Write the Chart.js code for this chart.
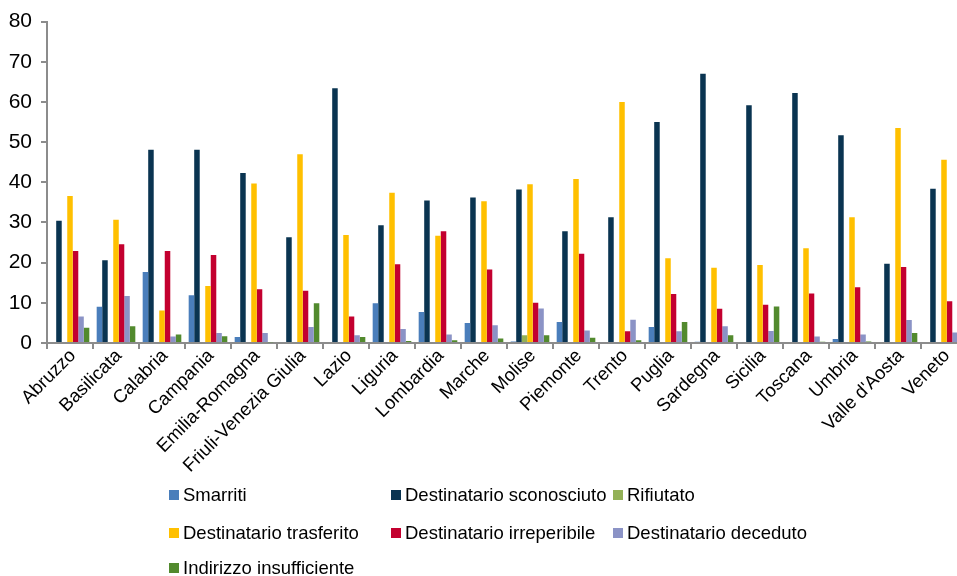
<!DOCTYPE html>
<html>
<head>
<meta charset="utf-8">
<script src="https://cdn.jsdelivr.net/npm/chart.js@4/dist/chart.umd.min.js"></script>
<style>
  html, body { margin: 0; padding: 0; background: #fff; overflow: hidden; width: 957px; height: 576px; }
  #wrap { position: relative; width: 957px; height: 576px; overflow: hidden; }
  canvas { position: absolute; left: 0; top: 0; }
  .lg { position: absolute; font-family: "Liberation Sans", Arial, sans-serif; font-size: 18.5px; color: #000; white-space: nowrap; line-height: 20px; height: 20px; }
  .lg span.box { display: inline-block; width: 10px; height: 10px; margin-right: 4px; vertical-align: 1px; }
</style>
</head>
<body>
<div id="wrap">
  <canvas id="c" width="968" height="576"></canvas>
</div>
<script>
const categories = ["Abruzzo","Basilicata","Calabria","Campania","Emilia-Romagna","Friuli-Venezia Giulia","Lazio","Liguria","Lombardia","Marche","Molise","Piemonte","Trento","Puglia","Sardegna","Sicilia","Toscana","Umbria","Valle d'Aosta","Veneto"];
const seriesNames = ["Smarriti","Destinatario sconosciuto","Rifiutato","Destinatario trasferito","Destinatario irreperibile","Destinatario deceduto","Indirizzo insufficiente"];
const smarriti      = [0, 9.0, 17.7, 11.9, 1.5, 0, 0, 9.9, 7.7, 5.0, 0.4, 5.2, 0, 4.0, 0.3, 0, 0, 1.0, 0, 0];
const sconosciuto   = [30.4, 20.6, 48.1, 48.1, 42.3, 26.3, 63.4, 29.3, 35.5, 36.2, 38.2, 27.8, 31.3, 55.0, 67.0, 59.2, 62.2, 51.7, 19.7, 38.4];
const rifiutato     = [0, 0, 0, 0, 0, 0, 0, 0, 0, 0, 1.9, 0, 0, 0, 0, 0, 0, 0, 0, 0];
const trasferito    = [36.6, 30.7, 8.1, 14.2, 39.7, 47.0, 26.9, 37.4, 26.7, 35.3, 39.5, 40.8, 60.0, 21.1, 18.7, 19.4, 23.6, 31.3, 53.5, 45.6];
const irreperibile  = [22.9, 24.6, 22.9, 21.9, 13.4, 13.0, 6.6, 19.6, 27.8, 18.3, 10.0, 22.2, 2.9, 12.2, 8.5, 9.5, 12.3, 13.9, 18.9, 10.4];
const deceduto      = [6.6, 11.7, 1.6, 2.5, 2.5, 4.0, 1.9, 3.5, 2.1, 4.4, 8.6, 3.1, 5.8, 2.9, 4.2, 3.0, 1.6, 2.1, 5.7, 2.6];
const insufficiente = [3.8, 4.2, 2.1, 1.7, 0.2, 9.9, 1.5, 0.5, 0.7, 1.1, 1.9, 1.3, 0.7, 5.2, 1.9, 9.1, 0.3, 0.4, 2.5, 0];
const yTicks = [0, 10, 20, 30, 40, 50, 60, 70, 80];

const seriesValues = [smarriti, sconosciuto, rifiutato, trasferito, irreperibile, deceduto, insufficiente];
const colors = ["#4A7EBB", "#0A3451", "#93B157", "#FFC000", "#C3002F", "#8B93C6", "#528A2E"];

const FONT = "'Liberation Sans', Arial, sans-serif";
const AXIS = "#8C8C8C";

const chart = new Chart(document.getElementById('c'), {
  type: 'bar',
  data: {
    labels: categories,
    datasets: seriesNames.map((n, i) => ({
      label: n,
      data: seriesValues[i],
      backgroundColor: colors[i],
      borderWidth: 0,
      categoryPercentage: 0.84,
      barPercentage: 1.0
    }))
  },
  options: {
    responsive: false,
    animation: false,
    devicePixelRatio: 1,
    layout: { padding: { top: 21, left: 0, right: 1, bottom: 0 } },
    plugins: { legend: { display: false }, tooltip: { enabled: false } },
    scales: {
      x: {
        grid: { display: true, drawOnChartArea: false, drawTicks: true, tickLength: 6, color: AXIS, lineWidth: 2, offset: true },
        border: { display: true, color: AXIS, width: 2 },
        ticks: { color: '#000', font: { family: FONT, size: 18.5 }, minRotation: 45, maxRotation: 45, autoSkip: false, padding: -4, labelOffset: 3 },
        afterFit: s => { s.height = 233; }
      },
      y: {
        min: 0, max: 80,
        afterBuildTicks: s => { s.ticks = yTicks.map(v => ({ value: v })); },
        grid: { display: true, drawOnChartArea: false, drawTicks: true, tickLength: 6, color: AXIS, lineWidth: 2 },
        border: { display: true, color: AXIS, width: 2 },
        ticks: { color: '#000', font: { family: FONT, size: 21 }, padding: 9 },
        afterFit: s => { s.width = 47; }
      }
    }
  }
});

// HTML legend built from the datasets
const legendPos = [[169, 485], [391, 485], [613, 485], [169, 523], [391, 523], [613, 523], [169, 558]];
const wrap = document.getElementById('wrap');
chart.data.datasets.forEach((ds, i) => {
  const d = document.createElement('div');
  d.className = 'lg';
  d.style.left = legendPos[i][0] + 'px';
  d.style.top = legendPos[i][1] + 'px';
  const b = document.createElement('span');
  b.className = 'box';
  b.style.background = ds.backgroundColor;
  d.appendChild(b);
  d.appendChild(document.createTextNode(ds.label));
  wrap.appendChild(d);
});
</script>
</body>
</html>
